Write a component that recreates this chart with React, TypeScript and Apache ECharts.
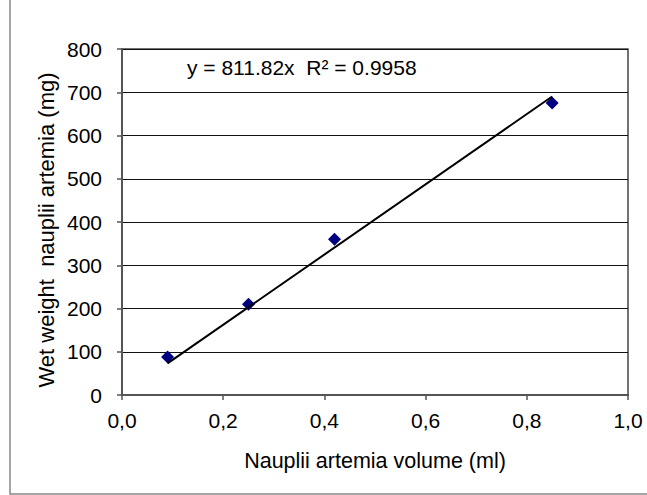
import React, { useEffect, useRef } from "react";
import * as echarts from "echarts";

const volumes = [0.09, 0.25, 0.42, 0.85];
const weights = [88, 210, 360, 675];
const trendSlope = 811.82;
const trendX = [0.09, 0.85];
const equationText = "y = 811.82x  R\u00B2 = 0.9958";
const xTitle = "Nauplii artemia volume (ml)";
const yTitle = "Wet weight  nauplii artemia (mg)";

const FONT = "'Liberation Sans', Arial, sans-serif";

export default function App() {
  const ref = useRef<HTMLDivElement>(null);
  useEffect(() => {
    if (!ref.current) return;
    const chart = echarts.init(ref.current, null, { renderer: "svg" });
    const scatterData = volumes.map((v, i) => [v, weights[i]]);
    const trendData = trendX.map((x) => [x, +(trendSlope * x).toFixed(2)]);
    chart.setOption({
      animation: false,
      backgroundColor: "#ffffff",
      textStyle: { fontFamily: FONT },
      grid: {
        left: 122,
        right: 19,
        top: 49,
        bottom: 100,
        show: true,
        borderColor: "#444",
        borderWidth: 1.5,
        backgroundColor: "transparent",
      },
      xAxis: {
        type: "value",
        min: 0,
        max: 1,
        interval: 0.2,
        name: xTitle,
        nameLocation: "middle",
        nameGap: 55,
        nameTextStyle: { fontSize: 21.5, color: "#000", fontFamily: FONT },
        axisLine: { show: true, lineStyle: { color: "#555", width: 2 } },
        axisTick: { show: true, length: 5, lineStyle: { color: "#555", width: 1.5 } },
        axisLabel: {
          margin: 15,
          fontSize: 21,
          color: "#000",
          fontFamily: FONT,
          formatter: (v: number) => v.toFixed(1).replace(".", ","),
        },
        splitLine: { show: false },
      },
      yAxis: {
        type: "value",
        min: 0,
        max: 800,
        interval: 100,
        axisLine: { show: true, lineStyle: { color: "#555", width: 2 } },
        axisTick: { show: true, length: 5, lineStyle: { color: "#555", width: 1.5 } },
        axisLabel: { margin: 20, fontSize: 21, color: "#000", fontFamily: FONT },
        splitLine: { show: true, lineStyle: { color: "#111", width: 1 } },
      },
      series: [
        {
          type: "scatter",
          data: scatterData,
          symbol: "diamond",
          symbolSize: 13,
          itemStyle: { color: "#000080", opacity: 1 },
          z: 2,
        },
        {
          type: "line",
          data: trendData,
          showSymbol: false,
          symbol: "none",
          lineStyle: { color: "#000", width: 2 },
          z: 3,
        },
      ],
      graphic: [
        {
          type: "rect",
          shape: { x: 10, y: -5, width: 700, height: 499 },
          style: { fill: "none", stroke: "#888", lineWidth: 1.5 },
          silent: true,
        },
        {
          type: "text",
          x: 187,
          y: 67.5,
          style: {
            text: equationText,
            fontSize: 21,
            fontFamily: FONT,
            fill: "#000",
            verticalAlign: "middle",
            align: "left",
          },
        },
        {
          type: "text",
          x: 46,
          y: 230,
          rotation: Math.PI / 2,
          style: {
            text: yTitle,
            fontSize: 22,
            fontFamily: FONT,
            fill: "#000",
            verticalAlign: "middle",
            align: "center",
          },
        },
      ],
    });
    return () => chart.dispose();
  }, []);
  return (
    <div
      ref={ref}
      style={{ position: "fixed", left: 0, top: 0, width: 647, height: 495 }}
    />
  );
}
